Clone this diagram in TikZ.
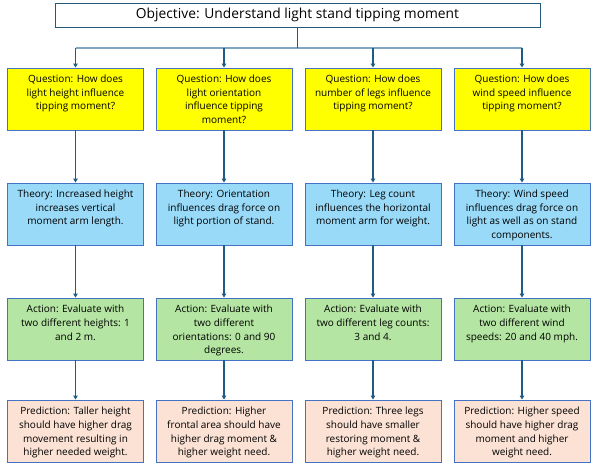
\documentclass[tikz,border=0pt]{standalone}
\usepackage{fontspec}
\setmainfont{Open Sans}
\usetikzlibrary{arrows.meta}
\definecolor{boxborder}{HTML}{4472C4}
\definecolor{qfill}{HTML}{FFFF00}
\definecolor{tfill}{HTML}{99DAF8}
\definecolor{afill}{HTML}{B4E5A2}
\definecolor{pfill}{HTML}{FBE2D5}
\definecolor{conncol}{HTML}{1E5C86}
\definecolor{buscol}{HTML}{7FA6C2}
\definecolor{objborder}{HTML}{215A7A}
\newcommand{\bxt}[1]{\parbox[t][48pt][t]{134pt}{\centering #1}}
\begin{document}
\begin{tikzpicture}[x=1pt,y=-1pt,
  box/.style={draw=boxborder, line width=0.9pt, minimum width=136pt, minimum height=62pt,
    inner sep=0pt, font=\fontsize{10}{13.7}\selectfont},
  qbox/.style={box, fill=qfill},
  tbox/.style={box, fill=tfill},
  abox/.style={box, fill=afill},
  pbox/.style={box, fill=pfill},
  objbox/.style={draw=objborder, line width=0.9pt, minimum width=485pt, minimum height=24pt,
    inner sep=0pt, font=\fontsize{13.8}{15}\selectfont},
  conn/.style={draw=conncol, line width=1.1pt, -{Triangle[width=4.5pt,length=4pt]}},
  connplain/.style={draw=conncol, line width=1.1pt},
  busline/.style={draw=buscol, line width=1.3pt}
]
\useasboundingbox (0,0) rectangle (596,470);
\node[objbox] (obj) at (297.5,15) {Objective: Understand light stand tipping moment};

\node[qbox] (q1) at (75.5,99) {\bxt{Question: How does\\light height influence\\tipping moment?}};
\node[qbox] (q2) at (224,99) {\bxt{Question: How does\\light orientation\\influence tipping\\moment?}};
\node[qbox] (q3) at (373,99) {\bxt{Question: How does\\number of legs influence\\tipping moment?}};
\node[qbox] (q4) at (522,99) {\bxt{Question: How does\\wind speed influence\\tipping moment?}};

\node[tbox] (t1) at (75.5,214) {\bxt{Theory: Increased height\\increases vertical\\moment arm length.}};
\node[tbox] (t2) at (224,214) {\bxt{Theory: Orientation\\influences drag force on\\light portion of stand.}};
\node[tbox] (t3) at (373,214) {\bxt{Theory: Leg count\\influences the horizontal\\moment arm for weight.}};
\node[tbox] (t4) at (522,214) {\bxt{Theory: Wind speed\\influences drag force on\\light as well as on stand\\components.}};

\node[abox] (a1) at (75.5,329) {\bxt{Action: Evaluate with\\two different heights: 1\\and 2 m.}};
\node[abox] (a2) at (224,329) {\bxt{Action: Evaluate with\\two different\\orientations: 0 and 90\\degrees.}};
\node[abox] (a3) at (373,329) {\bxt{Action: Evaluate with\\two different leg counts:\\3 and 4.}};
\node[abox] (a4) at (522,329) {\bxt{Action: Evaluate with\\two different wind\\speeds: 20 and 40 mph.}};

\node[pbox] (p1) at (75.5,431) {\bxt{Prediction: Taller height\\should have higher drag\\movement resulting in\\higher needed weight.}};
\node[pbox] (p2) at (224,431) {\bxt{Prediction: Higher\\frontal area should have\\higher drag moment \&\\higher weight need.}};
\node[pbox] (p3) at (373,431) {\bxt{Prediction: Three legs\\should have smaller\\restoring moment \&\\higher weight need.}};
\node[pbox] (p4) at (522,431) {\bxt{Prediction: Higher speed\\should have higher drag\\moment and higher\\weight need.}};

\coordinate (bus) at (297.5,48);
\draw[busline] (q1.north |- bus) -- (q4.north |- bus);
\draw[connplain] (obj.south) -- (bus);
\foreach \c in {q1,q2,q3,q4}{
  \draw[conn] (\c.north |- bus) -- (\c.north);
}
\foreach \u/\v in {q1/t1,q2/t2,q3/t3,q4/t4,t1/a1,t2/a2,t3/a3,t4/a4,a1/p1,a2/p2,a3/p3,a4/p4}{
  \draw[conn] (\u.south) -- (\v.north);
}
\end{tikzpicture}
\end{document}
